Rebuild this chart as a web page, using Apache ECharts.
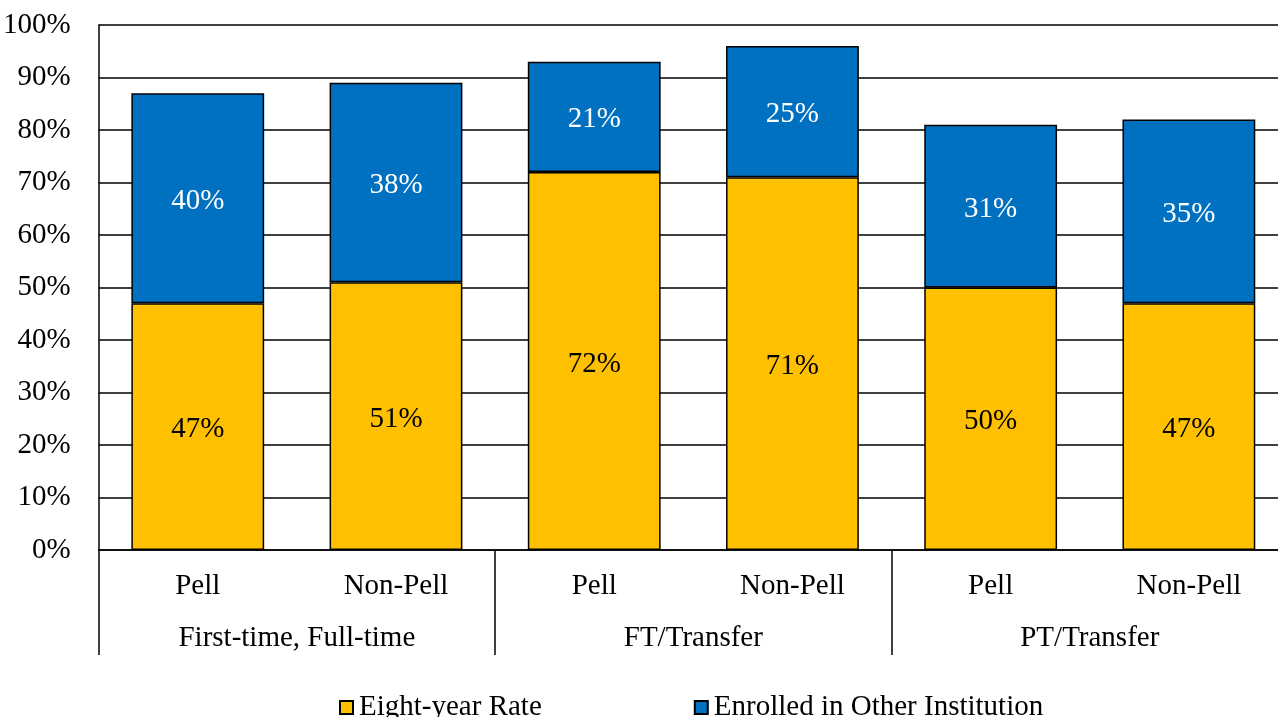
<!DOCTYPE html>
<html>
<head>
<meta charset="utf-8">
<script src="https://cdn.jsdelivr.net/npm/echarts@6/dist/echarts.min.js"></script>
<style>
  html, body { margin: 0; padding: 0; background: #fff; overflow: hidden; }
  #chart { width: 1292px; height: 717px; }
</style>
</head>
<body>
<div id="chart"></div>
<script>
const categories = ["Pell", "Non-Pell", "Pell", "Non-Pell", "Pell", "Non-Pell"];
const groups = ["First-time, Full-time", "FT/Transfer", "PT/Transfer"];
const eightYear = [47, 51, 72, 71, 50, 47];
const otherInst = [40, 38, 21, 25, 31, 35];
const seriesNames = ["Eight-year Rate", "Enrolled in Other Institution"];

const font = "'Liberation Serif', 'Times New Roman', serif";
const fs = 29;
const myChart = echarts.init(document.getElementById("chart"));

const option = {
  animation: false,
  textStyle: { fontFamily: font },
  grid: {
    left: 98,
    top: 25,
    right: 4,
    bottom: 167,
    containLabel: false,
  },
  legend: {
    top: 688,
    left: 334,
    itemGap: 152,
    itemWidth: 13,
    itemHeight: 13,
    icon: "rect",
    textStyle: { fontFamily: font, fontSize: fs, color: "#000", padding: [0, 0, 0, 1] },
    data: seriesNames,
  },
  xAxis: [
    {
      type: "category",
      data: categories,
      axisLine: { lineStyle: { color: "#000", width: 1.5 } },
      axisTick: { show: false },
      axisLabel: { color: "#000", fontSize: fs, fontFamily: font, margin: 22 },
    },
    {
      type: "category",
      data: groups,
      position: "bottom",
      axisLine: { show: false },
      axisTick: { show: true, length: 105, lineStyle: { color: "#000", width: 1.5 } },
      axisLabel: { color: "#000", fontSize: fs, fontFamily: font, margin: 74 },
    },
  ],
  yAxis: {
    type: "value",
    min: 0,
    max: 100,
    interval: 10,
    axisLine: { show: true, lineStyle: { color: "#000", width: 1.5 } },
    axisTick: { show: false },
    axisLabel: { color: "#000", fontSize: fs, fontFamily: font, margin: 28, formatter: "{value}%" },
    splitLine: { lineStyle: { color: "#000", width: 1.5 } },
  },
  series: [
    {
      name: seriesNames[0],
      type: "bar",
      stack: "total",
      barWidth: "67%",
      data: eightYear,
      itemStyle: { color: "#FFC000", borderColor: "#000", borderWidth: 1.5 },
      label: { show: true, position: "inside", offset: [0, 3], formatter: "{c}%", color: "#000", fontSize: fs, fontFamily: font },
    },
    {
      name: seriesNames[1],
      type: "bar",
      stack: "total",
      barWidth: "67%",
      data: otherInst,
      itemStyle: { color: "#0070C0", borderColor: "#000", borderWidth: 1.5 },
      label: { show: true, position: "inside", offset: [0, 3], formatter: "{c}%", color: "#fff", fontSize: fs, fontFamily: font },
    },
  ],
};

myChart.setOption(option);
</script>
</body>
</html>
